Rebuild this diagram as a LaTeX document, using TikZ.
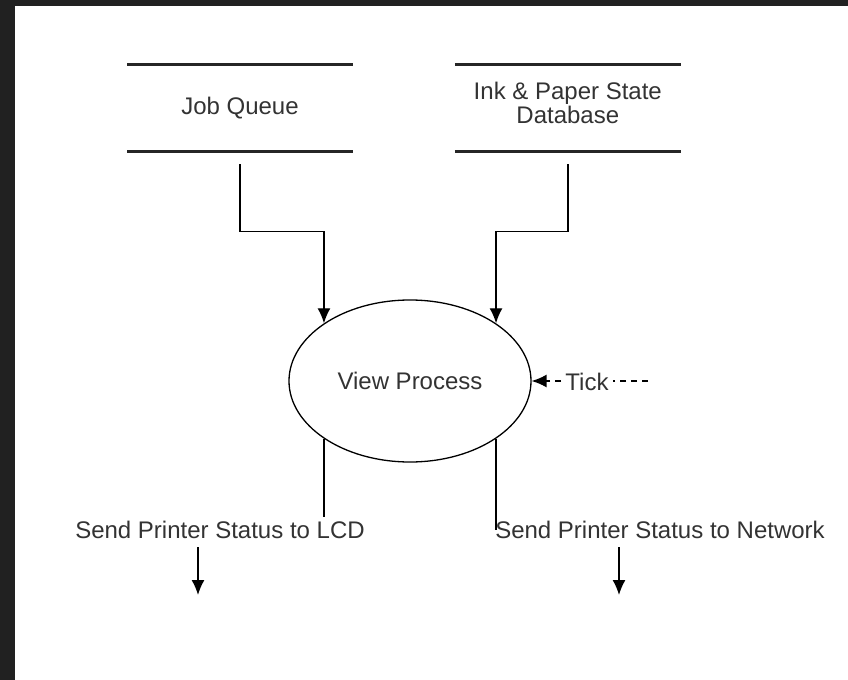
\documentclass[tikz,border=0pt]{standalone}
\usepackage{fontspec}
\setmainfont{Liberation Sans}
\usetikzlibrary{arrows.meta,positioning,shapes.geometric}

\begin{document}
\begin{tikzpicture}[x=0.5pt,y=-0.5pt,font=\fontsize{12}{12}\selectfont]
	\tikzstyle{store} = [draw=none, text=black!80, minimum width=112.5pt, minimum height=43pt, inner sep=0pt, align=center]
	\tikzstyle{storeline} = [draw=black!85, line width=1.7pt]
	\tikzstyle{process} = [ellipse, draw, line width=0.65pt, text=black!80, minimum width=121pt, minimum height=81pt]
	\tikzstyle{flowlabel} = [fill=white, text=black!80, inner sep=2pt]
	\tikzstyle{flow} = [draw, line width=0.7pt]
	\tikzstyle{arrow} = [flow, -{Latex[length=7.5pt,width=6.5pt]}]
	\tikzstyle{tickline} = [flow, dash pattern=on 3pt off 2.5pt]

	% backdrop
	\fill[black!87] (0,0) rectangle (848,680);
	\fill[white] (15,6) rectangle (848,680);

	\node [store] (jobq) at (240,108) {Job Queue};
	\node [store, right=51pt of jobq, text depth=5pt] (inkdb) {Ink \& Paper State\\Database};
	\node [process] (view) at (410,381) {View Process};
	\node [flowlabel] (tick) at (587,382) {Tick};
	\node [flowlabel] (lcd) at (220,530) {Send Printer Status to LCD};
	\node [flowlabel] (net) at (660,530) {Send Printer Status to Network};
	\coordinate (tickin) at (648,381);
	\coordinate (lcdend) at (198,595);
	\coordinate (netend) at (619,595);

	% data stores
	\draw[storeline] (jobq.north west) -- (jobq.north east);
	\draw[storeline] (jobq.south west) -- (jobq.south east);
	\draw[storeline] (inkdb.north west) -- (inkdb.north east);
	\draw[storeline] (inkdb.south west) -- (inkdb.south east);

	\path[arrow] ([yshift=-6.5pt]jobq.south) -- ++(0,67) -| (view.north west);
	\path[arrow] ([yshift=-6.5pt]inkdb.south) -- ++(0,67) -| (view.north east);

	\path[tickline] (tickin) -- (tick.east |- tickin);
	\path[tickline, -{Latex[length=7.5pt,width=6.5pt]}] (tick.west |- tickin) -- (view.east);

	\path[flow] (view.south west) -- (view.south west |- lcd.north);
	\path[arrow] ([yshift=-2pt]lcd.south -| lcdend) -- (lcdend);
	\path[flow] (view.south east) -- (view.south east |- net.center);
	\path[arrow] ([yshift=-2pt]net.south -| netend) -- (netend);
\end{tikzpicture}
\end{document}
